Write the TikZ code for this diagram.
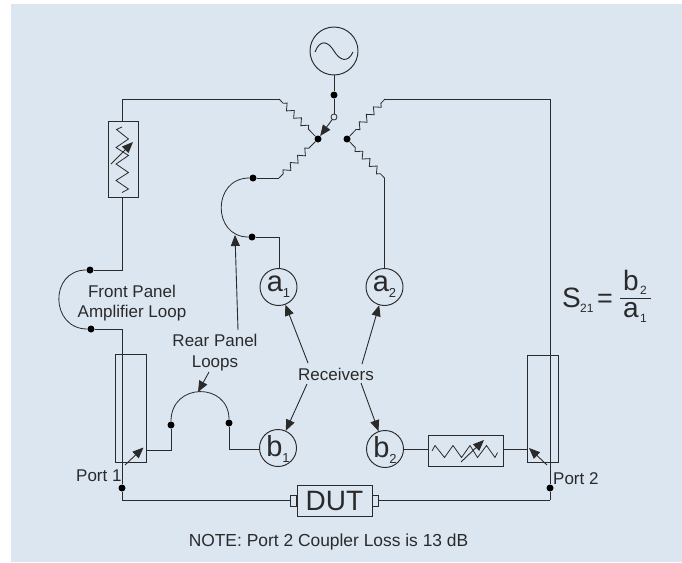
\documentclass[tikz,border=0pt]{standalone}
\usepackage{fontspec}
\setmainfont{Liberation Sans}
\usetikzlibrary{arrows.meta,decorations.pathmorphing}
\definecolor{panel}{HTML}{DCE6F0}
\definecolor{ink}{HTML}{2B2A2B}
\newcommand{\fsz}[1]{\fontsize{#1}{#1}\selectfont}
\newcommand{\letsub}[2]{\fsz{29}#1\raisebox{-6pt}{\fsz{13}#2}}
\tikzset{
  wire/.style={draw=ink,line width=0.95pt},
  thin wire/.style={draw=ink,line width=0.8pt},
  dot/.style={circle,fill=black,draw=none,minimum size=7pt,inner sep=0pt},
  opendot/.style={circle,fill=panel,draw=ink,line width=0.8pt,minimum size=6pt,inner sep=0pt},
  rcvr/.style={circle,draw=ink,line width=0.95pt,minimum size=37pt,inner sep=0pt,text=ink},
  rcvra/.style={rcvr,text height=9pt,text depth=1pt},
  rcvrb/.style={rcvr,text height=17pt,text depth=1pt},
  box/.style={rectangle,draw=ink,line width=0.95pt,inner sep=0pt},
  lbl/.style={text=ink,inner sep=0pt,font=\fsz{17}},
  ptr/.style={draw=ink,line width=0.9pt,-{Triangle[length=11pt,width=9pt]}},
  res/.style={thin wire,decorate,decoration={zigzag,segment length=10.3pt,amplitude=3pt,pre length=6pt,post length=5pt}},
}
\begin{document}
\begin{tikzpicture}[x=1pt,y=-1pt]
\useasboundingbox (0,0) rectangle (682,562);
\fill[panel] (11,4) rectangle (682,562);

% source
\node[circle,draw=ink,line width=0.95pt,minimum size=48pt,inner sep=0pt] (src) at (334,51) {};
\draw[wire] (315,52) .. controls (320,39) and (328,41) .. (334,51) .. controls (340,61) and (348,63) .. (353,52);
\node[dot] (dsrc) at (334,95) {};
\node[opendot] (osw) at (334,117) {};
\node[dot] (dl) at (318,139) {};
\node[dot] (dr) at (347,139) {};
\draw[wire] (src.south) -- (dsrc) -- (osw);
\draw[ptr] (osw) -- (dl);

% receivers
\node[rcvra] (a1) at (278.5,287) {\letsub{a}{1}};
\node[rcvra] (a2) at (384.5,287) {\letsub{a}{2}};
\node[rcvrb] (b1) at (278,448) {\letsub{b}{1}};
\node[rcvrb] (b2) at (385,449) {\letsub{b}{2}};

% top resistors and wiring
\coordinate (tl) at (279,99);
\coordinate (tla) at (122,99);
\coordinate (tr) at (385,99);
\coordinate (tra) at (550,99);
\coordinate (ml) at (279,178);
\coordinate (mr) at (384.5,178);
\draw[res] (tl) -- (dl);
\draw[res] (ml) -- (dl);
\draw[res] (tr) -- (dr);
\draw[res] (mr) -- (dr);
\node[dot] (rl1) at (253,178) {};
\node[dot] (rl2) at (252,237) {};
\coordinate (a1up) at (279,237);
\draw[wire] (ml) -- (rl1);
\draw[thin wire] (rl1) .. controls (212,178) and (212,237) .. (rl2);
\draw[wire] (rl2) -- (a1up) -- (a1.north -| a1up);
\draw[wire] (mr) -- (a2.north);

% front-panel attenuator box
\node[box,minimum width=30pt,minimum height=76pt] (abox) at (123,159) {};
\draw[thin wire] (122,127) -- (116.5,129.5) -- (128.5,139) -- (116,147.5) -- (128.5,155.5) -- (116,164) -- (128.5,172.5) -- (116,180.5) -- (128.5,189) -- (122,192.5);
\draw[ptr] (111,164) -- (133,142);
\draw[wire] (abox.north -| tla) -- (tla) -- (tl);

% front panel loop
\node[dot] (fl1) at (90,270) {};
\node[dot] (fl2) at (91,329) {};
\coordinate (fc1) at (122,270);
\coordinate (fc2) at (122,329);
\coordinate (bl) at (122,500);
\coordinate (br) at (550,500);
\draw[wire] (abox.south -| fc1) -- (fc1) -- (fl1);
\draw[thin wire] (fl1) .. controls (49,270) and (50,329) .. (fl2);

% couplers
\node[box,minimum width=31pt,minimum height=108pt] (cp1) at (130.5,408) {};
\node[box,minimum width=31pt,minimum height=107pt] (cp2) at (542.5,408.5) {};
\node[dot] (dp1) at (122,488) {};
\node[dot] (dp2) at (550,488) {};
\draw[wire] (fl2) -- (fc2) -- (dp1) -- (bl);
\draw[wire] (tr) -- (tra) -- (dp2) -- (br);

% DUT
\node[box,minimum width=75pt,minimum height=31pt,text=ink,font=\fsz{28},text height=20pt,text depth=0pt] (dut) at (334.5,500.5) {DUT};
\node[box,minimum width=6pt,minimum height=11pt,anchor=east] (cl) at (dut.west) {};
\node[box,minimum width=6pt,minimum height=11pt,anchor=west] (cr) at (dut.east) {};
\draw[wire] (bl) -- (bl -| cl.west);
\draw[wire] (br) -- (br -| cr.east);

% port 1 side
\coordinate (p1a) at (171,450);
\coordinate (p1b) at (229,449);
\node[dot] (rb1) at (171,425) {};
\node[dot] (rb2) at (229,423) {};
\draw[wire] (cp1.east |- p1a) -- (p1a) -- (rb1);
\draw[thin wire] (rb1) .. controls (171,382) and (229,382) .. (rb2);
\draw[wire] (rb2) -- (p1b) -- (b1.west |- p1b);

% port 2 side
\node[box,minimum width=75pt,minimum height=31pt] (vbox) at (465.5,450.5) {};
\draw[thin wire] (432,451) -- (435,445.5) -- (444.5,457.5) -- (453,445.5) -- (461.5,457.5) -- (470,445.5) -- (477.5,457.5) -- (486.5,445.5) -- (495,457.5) -- (497.5,452.5);
\draw[ptr] (461,462) -- (484,440);
\draw[wire] (b2.east) -- (vbox.west |- b2.east);
\draw[wire] (vbox.east |- b2.east) -- (cp2.west |- b2.east);

% coupler arrows
\coordinate (p1s) at (125,465);
\coordinate (p1t) at (143.5,447.5);
\coordinate (p2s) at (547,465);
\coordinate (p2t) at (529,448);
\draw[ptr] (p1s) -- (p1t);
\draw[ptr] (p2s) -- (p2t);

% labels
\node[lbl,align=center] (frontlbl) at (132,302.6) {Front Panel\\[3pt]Amplifier Loop};
\node[lbl,align=center] (rearlbl) at (215,353) {Rear Panel\\[4pt]Loops};
\node[lbl,anchor=base] (recv) at (336,380) {Receivers};
\node[lbl,anchor=base west] (port1) at (76,481) {Port 1};
\node[lbl,anchor=base west] (port2) at (553,484) {Port 2};
\node[lbl,anchor=base,font=\fsz{17.4}] (note) at (328.5,546) {NOTE: Port 2 Coupler Loss is 13 dB};

% pointer arrows
\coordinate (rs1) at (238,330);
\coordinate (rt1) at (235,235);
\coordinate (rs2) at (209,372);
\coordinate (rt2) at (198,392);
\draw[ptr] (rs1) -- (rt1);
\draw[ptr] (rs2) -- (rt2);
\coordinate (ra1) at (308,363);
\coordinate (ra2) at (362,364);
\coordinate (rb1s) at (307,384);
\coordinate (rb2s) at (361,383);
\draw[ptr] (ra1) -- (a1);
\draw[ptr] (ra2) -- (a2);
\draw[ptr] (rb1s) -- (b1);
\draw[ptr] (rb2s) -- (b2);

% formula
\node[text=ink,inner sep=0pt,anchor=base west,font=\fsz{28}] (S) at (562,307) {S};
\node[text=ink,inner sep=0pt,anchor=base west,font=\fsz{12}] (S21) at (580,312) {21};
\node[text=ink,inner sep=0pt,anchor=base west,font=\fsz{27}] (eq) at (597,307) {=};
\node[text=ink,inner sep=0pt,anchor=base west,font=\fsz{28}] (fb) at (623,290) {b};
\node[text=ink,inner sep=0pt,anchor=base west,font=\fsz{12}] (fb2) at (640,294) {2};
\node[text=ink,inner sep=0pt,anchor=base west,font=\fsz{28}] (fa) at (623,317) {a};
\node[text=ink,inner sep=0pt,anchor=base west,font=\fsz{12}] (fa1) at (640,322) {1};
\coordinate (barl) at (620,298);
\coordinate (barr) at (651,298);
\draw[thin wire] (barl) -- (barr);
\end{tikzpicture}
\end{document}
